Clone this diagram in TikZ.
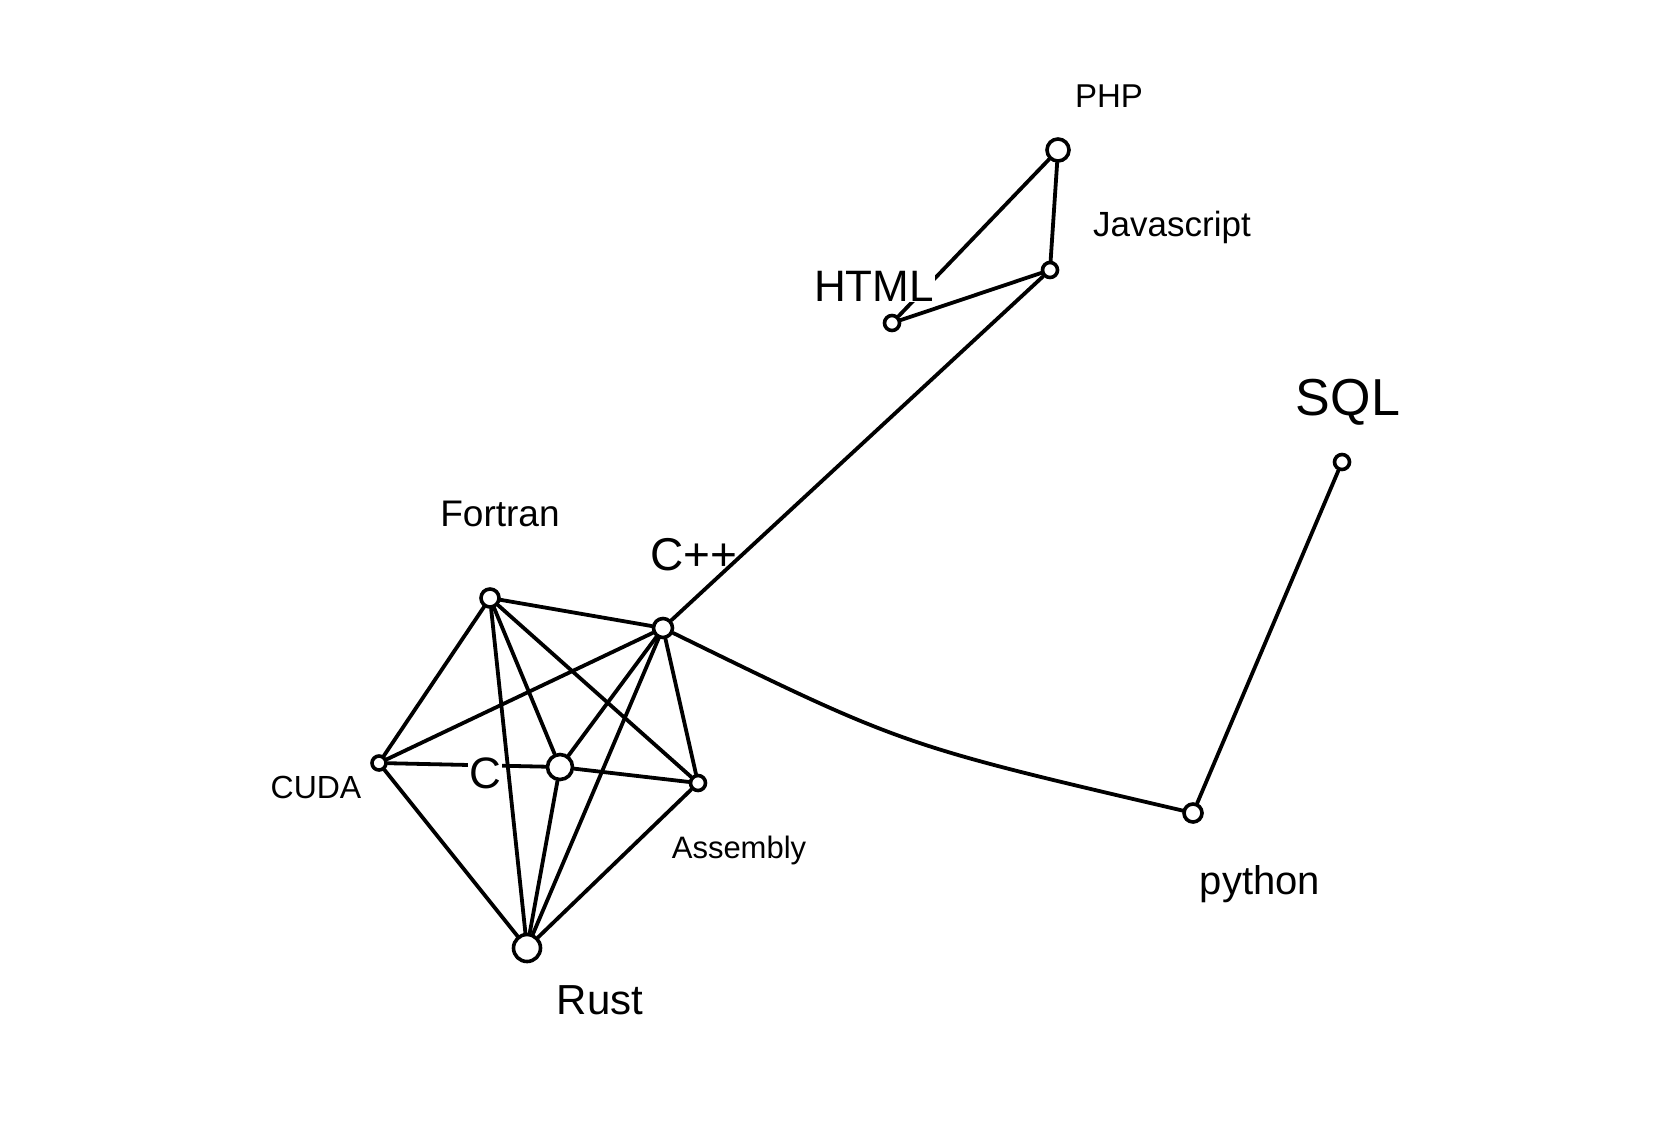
\documentclass[tikz,border=0pt]{standalone}
\usepackage{fontspec}
\setmainfont{Liberation Sans}
\begin{document}
\begin{tikzpicture}[x=1pt,y=-1pt,
  vtx/.style={circle,draw,line width=3.6pt,inner sep=0pt,minimum size=#1},
  vtx/.default=14pt,
  edge/.style={line width=3.8pt,line cap=round},
  lab/.style={inner sep=0pt,font=\fontsize{#1}{#1}\selectfont},
  cutlab/.style={lab=#1,fill=white,inner sep=1pt}]
\useasboundingbox[fill=white] (0,0) rectangle (1680,1138);
% vertices
\node[vtx=22pt] (php) at (1058,150) {};
\node[vtx=15pt] (js) at (1050,270) {};
\node[vtx=15pt] (html) at (892,323) {};
\node[vtx=15pt] (sql) at (1342,462) {};
\node[vtx=18pt] (python) at (1193,813) {};
\node[vtx=19pt] (cpp) at (663,628) {};
\node[vtx=18pt] (fortran) at (490,598) {};
\node[vtx=14pt] (cuda) at (379,763) {};
\node[vtx=25pt] (c) at (560,767) {};
\node[vtx=15pt] (asm) at (698,783) {};
\node[vtx=27pt] (rust) at (527,948) {};
\coordinate (bend) at (902,745);
% edges
\draw[edge] (php) -- (js);
\draw[edge] (php) -- (html);
\draw[edge] (html) -- (js);
\draw[edge] (js) -- (cpp);
\draw[edge] (cpp) .. controls (bend) .. (python);
\draw[edge] (python) -- (sql);
\draw[edge] (fortran) -- (cpp);
\draw[edge] (fortran) -- (cuda);
\draw[edge] (fortran) -- (c);
\draw[edge] (fortran) -- (asm);
\draw[edge] (fortran) -- (rust);
\draw[edge] (cpp) -- (cuda);
\draw[edge] (cpp) -- (c);
\draw[edge] (cpp) -- (asm);
\draw[edge] (cpp) -- (rust);
\draw[edge] (cuda) -- (c);
\draw[edge] (cuda) -- (rust);
\draw[edge] (c) -- (asm);
\draw[edge] (c) -- (rust);
\draw[edge] (asm) -- (rust);
% labels
\node[lab=33] (lphp) at (1109,96) {PHP};
\node[lab=35] (ljs) at (1172,227) {Javascript};
\node[cutlab=44] (lhtml) at (874,286) {HTML};
\node[lab=52] (lsql) at (1348,402) {SQL};
\node[lab=46] (lcpp) at (694,555) {C++};
\node[lab=37] (lfortran) at (500,514) {Fortran};
\node[lab=32] (lcuda) at (316,787) {CUDA};
\node[cutlab=44] (lc) at (485,773) {C};
\node[lab=31] (lasm) at (739,850) {Assembly};
\node[lab=42] (lrust) at (600,1000) {Rust};
\node[lab=40] (lpython) at (1260,884) {python};
\end{tikzpicture}
\end{document}
